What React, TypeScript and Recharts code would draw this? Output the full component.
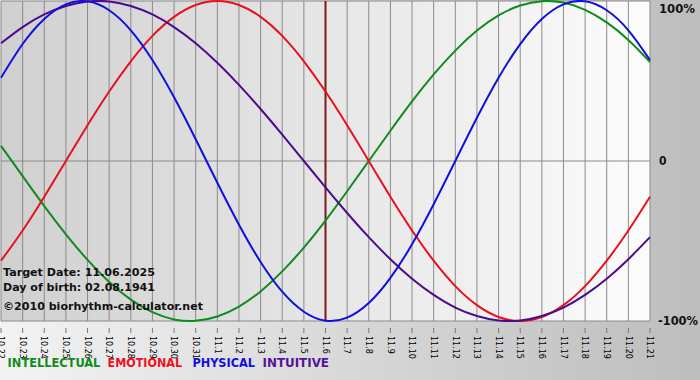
import React from "react";
import { LineChart, Line, XAxis, YAxis, CartesianGrid, ReferenceLine } from "recharts";

const dateLabels = [
  "10.22", "10.23", "10.24", "10.25", "10.26", "10.27", "10.28", "10.29", "10.30", "10.31",
  "11.1", "11.2", "11.3", "11.4", "11.5", "11.6", "11.7", "11.8", "11.9", "11.10",
  "11.11", "11.12", "11.13", "11.14", "11.15", "11.16", "11.17", "11.18", "11.19", "11.20", "11.21",
];

const physical = [52.0, 73.1, 88.8, 97.9, 99.8, 94.2, 81.7, 63.1, 39.8, 13.6, -13.6, -39.8, -63.1, -81.7, -94.2, -99.8, -97.9, -88.8, -73.1, -52.0, -27.0, 0, 27.0, 52.0, 73.1, 88.8, 97.9, 99.8, 94.2, 81.7, 63.1];
const emotional = [-62.3, -43.4, -22.3, 0, 22.3, 43.4, 62.3, 78.2, 90.1, 97.5, 100, 97.5, 90.1, 78.2, 62.3, 43.4, 22.3, 0, -22.3, -43.4, -62.3, -78.2, -90.1, -97.5, -100, -97.5, -90.1, -78.2, -62.3, -43.4, -22.3];
const intellectual = [9.5, -9.5, -28.2, -45.8, -61.8, -75.6, -86.6, -94.5, -99.0, -99.9, -97.2, -91.0, -81.5, -69.0, -54.1, -37.2, -18.9, 0, 18.9, 37.2, 54.1, 69.0, 81.5, 91.0, 97.2, 99.9, 99.0, 94.5, 86.6, 75.6, 61.8];
const intuitive = [73.6, 83.7, 91.6, 96.9, 99.7, 99.7, 96.9, 91.6, 83.7, 73.6, 61.4, 47.6, 32.5, 16.5, 0, -16.5, -32.5, -47.6, -61.4, -73.6, -83.7, -91.6, -96.9, -99.7, -99.7, -96.9, -91.6, -83.7, -73.6, -61.4, -47.6];

const yTicks = [-100, 0, 100];
const yLabels = ["-100%", "0", "100%"];
const yLabelWidths = [40, 7.5, 36];
const targetIndex = 15;
const infoLines = ["Target Date: 11.06.2025", "Day of birth: 02.08.1941", "\u00a92010 biorhythm-calculator.net"];
const legendItems = [
  { name: "INTELLECTUAL", color: "#118a1e" },
  { name: "EMOTIONAL", color: "#ee1122" },
  { name: "PHYSICAL", color: "#1111dd" },
  { name: "INTUITIVE", color: "#551199" },
];

const data = dateLabels.map((d, i) => ({
  i,
  date: d,
  physical: physical[i],
  emotional: emotional[i],
  intellectual: intellectual[i],
  intuitive: intuitive[i],
}));

const XTick = (props: any) => {
  const { x, y, payload } = props;
  const label = dateLabels[payload.value];
  return (
    <g>
      <line x1={x} y1={y - 1} x2={x} y2={y + 4} stroke="#777" strokeWidth={1} />
      <text
        x={x}
        y={y + 7}
        transform={`rotate(90, ${x}, ${y + 7})`}
        textAnchor="start"
        dy="0.35em"
        fontFamily="DejaVu Sans, Verdana, sans-serif"
        fontSize={8}
        fill="#000"
      >
        {label}
      </text>
    </g>
  );
};

const YTick = (props: any) => {
  const { y, payload } = props;
  const idx = yTicks.indexOf(payload.value);
  const yy = Math.max(y, 8);
  return (
    <text
      x={idx === 0 ? 658 : 659}
      y={yy}
      dy="0.36em"
      textAnchor="start"
      fontFamily="DejaVu Sans, Verdana, sans-serif"
      fontWeight="bold"
      fontSize={12}
      fill="#111"
      textLength={yLabelWidths[idx]}
      lengthAdjust="spacingAndGlyphs"
    >
      {yLabels[idx]}
    </text>
  );
};

export default function App() {
  const legendX = [7.6, 107.6, 192.4, 262.5];
  const legendW = [92.8, 74.4, 62.6, 66.5];
  return (
    <div
      style={{
        position: "absolute",
        left: 0,
        top: 0,
        width: 700,
        height: 380,
        background: "linear-gradient(to right, #f3f3f3, #bdbdbd)",
        overflow: "hidden",
      }}
    >
      <LineChart width={700} height={380} data={data} margin={{ top: 1, right: 0, bottom: 1, left: 1 }}>
        <defs>
          <linearGradient id="plotBg" x1="0" y1="0" x2="1" y2="0">
            <stop offset="0%" stopColor="#d0d0d0" />
            <stop offset="100%" stopColor="#fcfcfc" />
          </linearGradient>
        </defs>
        <CartesianGrid
          fill="url(#plotBg)"
          fillOpacity={1}
          stroke="#8a8a8a"
          strokeWidth={1}
          vertical={true}
          horizontal={true}
        />
        <XAxis
          dataKey="i"
          type="number"
          domain={[0, 30]}
          ticks={dateLabels.map((_, i) => i)}
          interval={0}
          height={58}
          axisLine={false}
          tickLine={false}
          tick={<XTick />}
        />
        <YAxis
          orientation="right"
          type="number"
          domain={[-100, 100]}
          ticks={yTicks}
          width={50}
          axisLine={false}
          tickLine={false}
          tick={<YTick />}
        />
        <ReferenceLine x={targetIndex} stroke="#7a1a1a" strokeWidth={2} ifOverflow="extendDomain" />
        <Line type="natural" dataKey="intellectual" stroke="#118a1e" strokeWidth={2} dot={false} isAnimationActive={false} />
        <Line type="natural" dataKey="emotional" stroke="#e8101c" strokeWidth={2} dot={false} isAnimationActive={false} />
        <Line type="natural" dataKey="intuitive" stroke="#4b0c8c" strokeWidth={2} dot={false} isAnimationActive={false} />
        <Line type="natural" dataKey="physical" stroke="#1010dd" strokeWidth={2} dot={false} isAnimationActive={false} />
      </LineChart>
      <svg
        width={700}
        height={380}
        style={{ position: "absolute", left: 0, top: 0, pointerEvents: "none" }}
      >
        {infoLines.map((t, k) => (
          <text
            key={t}
            x={3}
            y={[276, 291, 310][k]}
            fontFamily="DejaVu Sans, Verdana, sans-serif"
            fontWeight="bold"
            fontSize={11}
            fill="#111"
            textLength={[152, 152, 200][k]}
            lengthAdjust="spacingAndGlyphs"
          >
            {t}
          </text>
        ))}
        {legendItems.map((it, k) => (
          <text
            key={it.name}
            x={legendX[k]}
            y={366.5}
            fontFamily="DejaVu Sans, Verdana, sans-serif"
            fontWeight="bold"
            fontSize={12}
            fill={it.color}
            textLength={legendW[k]}
            lengthAdjust="spacingAndGlyphs"
          >
            {it.name}
          </text>
        ))}
      </svg>
    </div>
  );
}
